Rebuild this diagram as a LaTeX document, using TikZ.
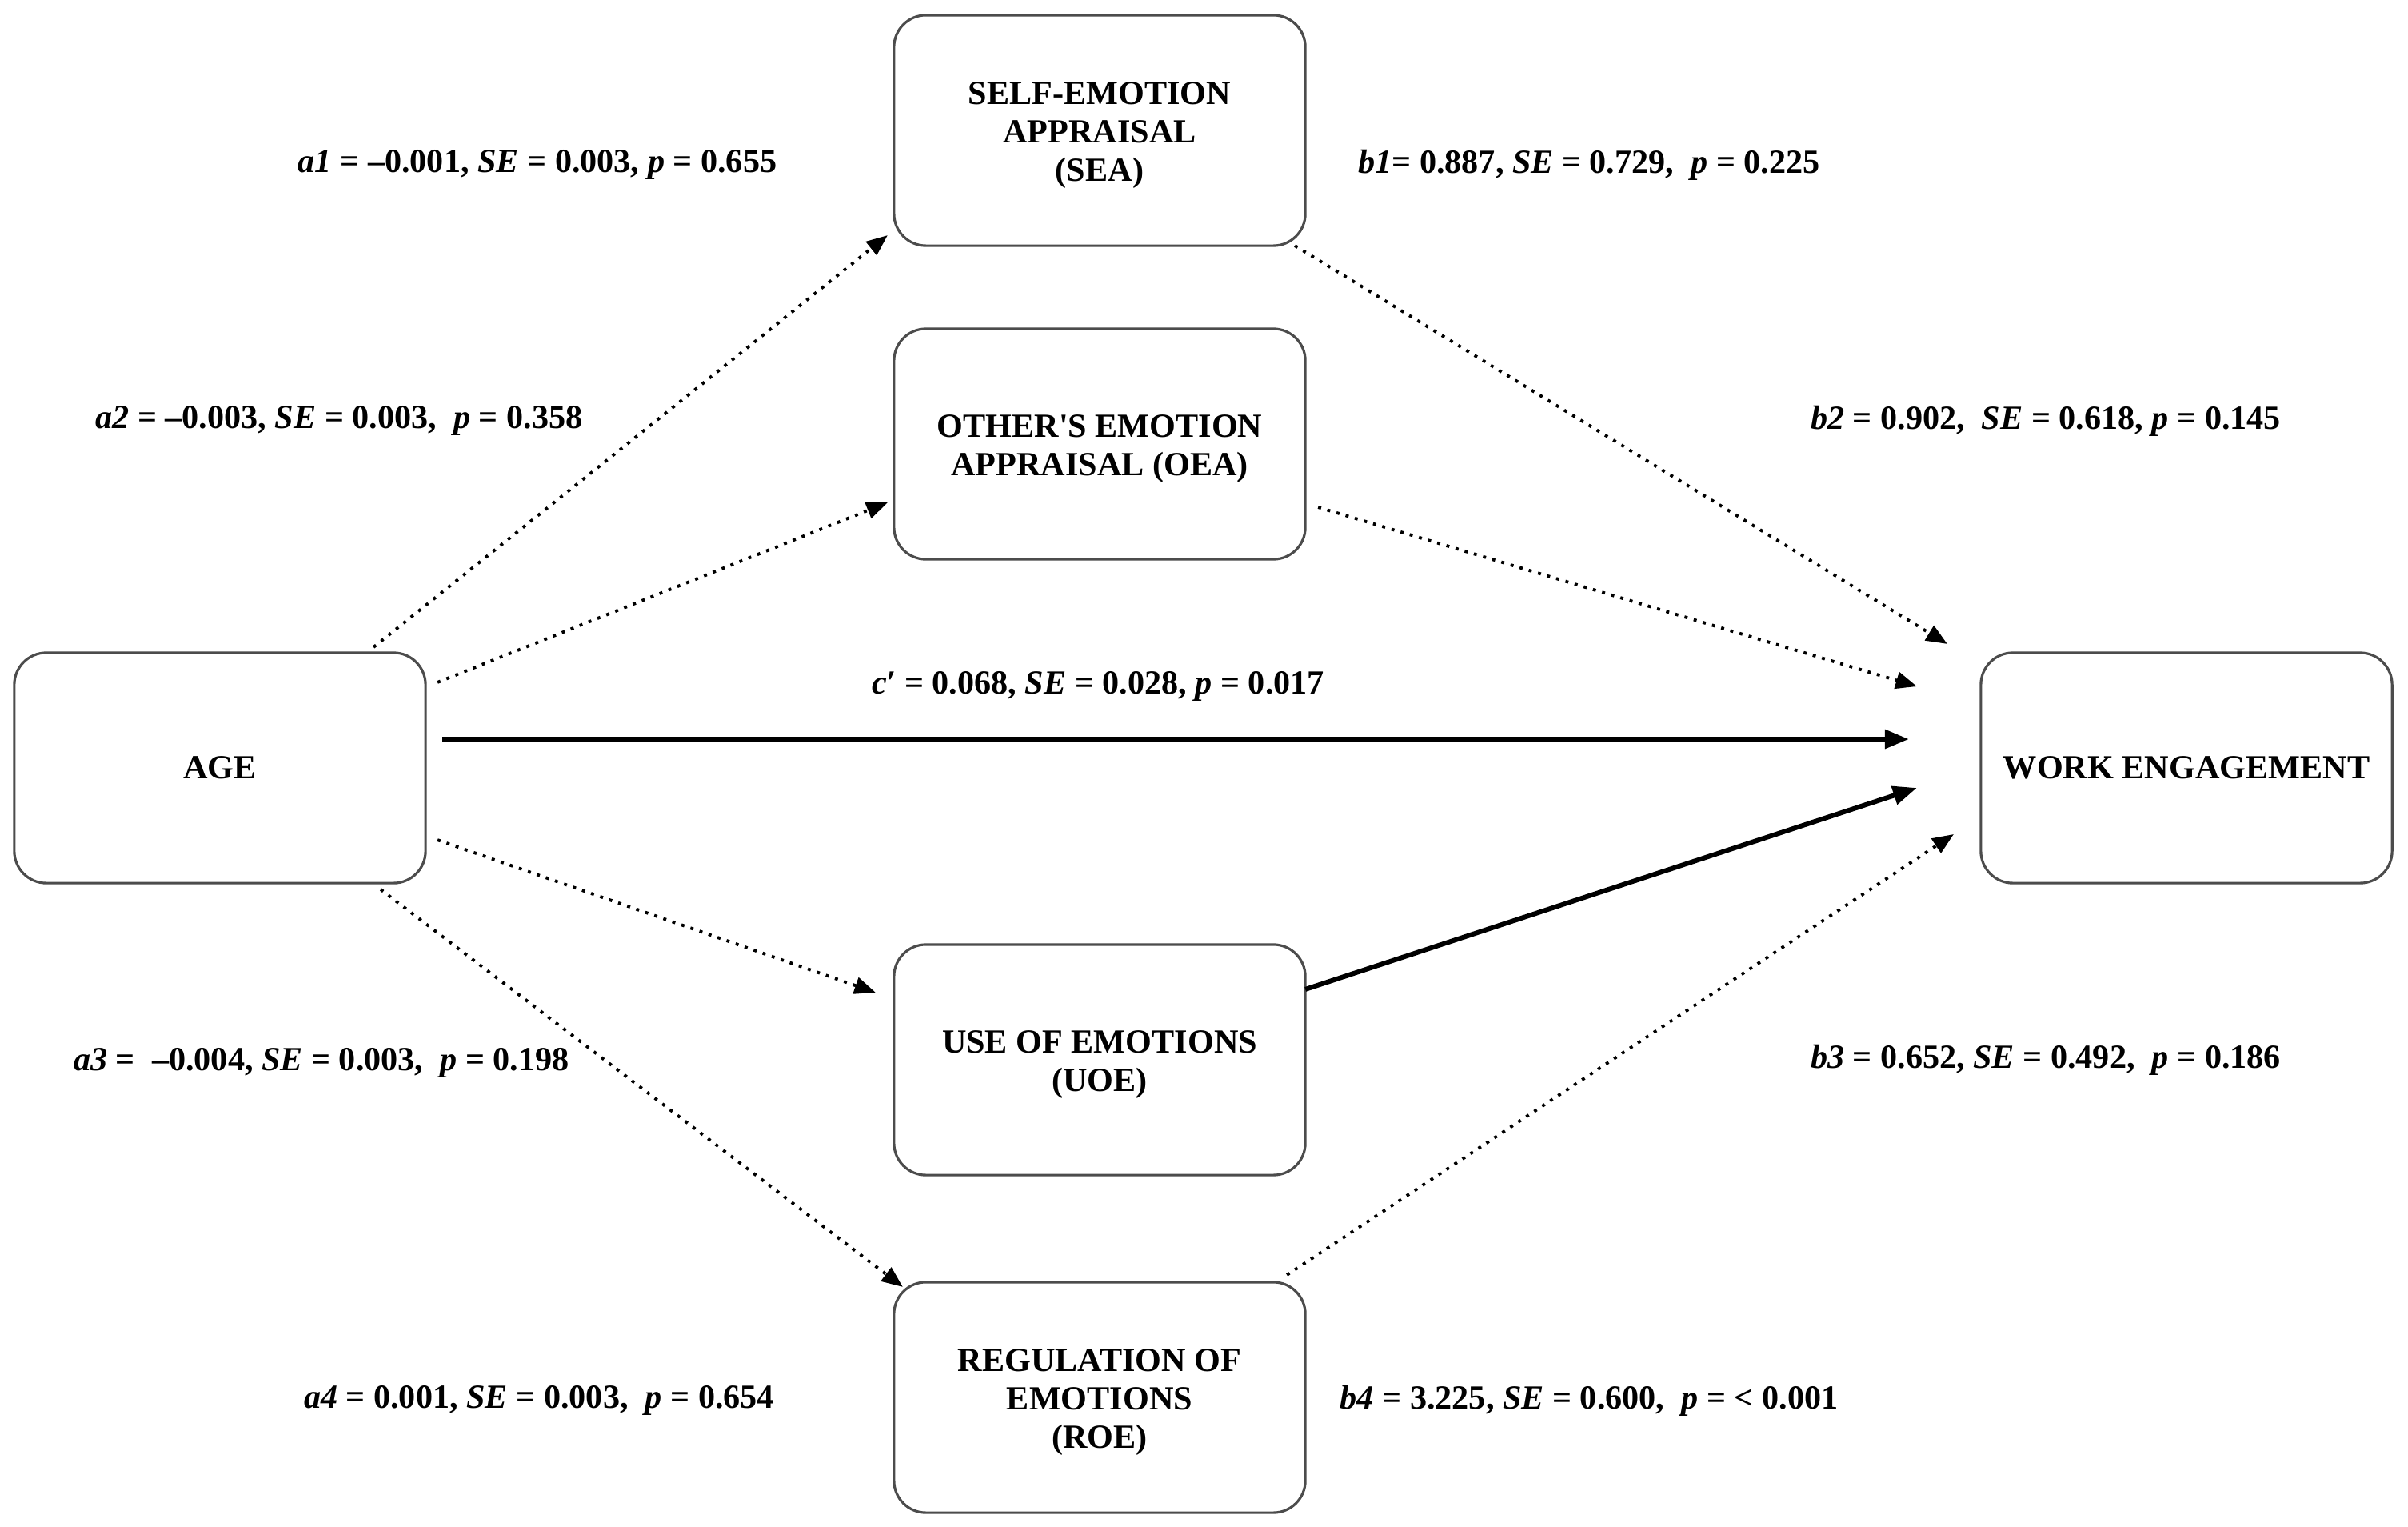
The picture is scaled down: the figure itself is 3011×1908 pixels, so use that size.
\documentclass[tikz,border=0pt]{standalone}
\usepackage{fontspec}
\setmainfont{Liberation Serif}[Ligatures=TeXOff]
\usetikzlibrary{arrows.meta,calc}
\newcommand{\topstrut}{\rule{0pt}{11.5pt}}
\begin{document}
\begin{tikzpicture}[x=0.01cm,y=-0.01cm,
  box/.style={draw=black!70,line width=0.9pt,rounded corners=0.4cm,minimum width=5.14cm,minimum height=2.88cm,
    inner sep=0pt,outer sep=0pt,align=center,font=\bfseries\fontsize{12}{13.7}\selectfont},
  lab/.style={font=\bfseries\fontsize{12}{14}\selectfont,inner sep=0pt},
  dotarrow/.style={line width=1.1pt,dash pattern=on 1.1pt off 2.3pt,-{Triangle[length=7.5pt,width=6pt]}},
  solidarrow/.style={line width=1.7pt,-{Triangle[length=8.5pt,width=6.5pt]}}]
\useasboundingbox[fill=white] (0,0) rectangle (3011,1908);
\node[box] (sea) at (1375,163) {\topstrut SELF-EMOTION\\APPRAISAL\\(SEA)};
\node[box] (oea) at (1375,555) {\topstrut OTHER'S EMOTION\\APPRAISAL (OEA)};
\node[box] (age) at (275,960) {AGE};
\node[box] (we) at (2734,960) {WORK ENGAGEMENT};
\node[box] (uoe) at (1375,1325) {\topstrut USE OF EMOTIONS\\(UOE)};
\node[box] (roe) at (1375,1747) {\topstrut REGULATION OF\\EMOTIONS\\(ROE)};
% labels
\node[lab] (la1) at (672,206) {\textit{a1} = –0.001, \textit{SE} = 0.003, \textit{p} = 0.655};
\node[lab] (la2) at (424,526) {\textit{a2} = –0.003, \textit{SE} = 0.003,\ \ \textit{p} = 0.358};
\node[lab] (lb1) at (1987,206) {\textit{b1}= 0.887, \textit{SE} = 0.729,\ \ \textit{p} = 0.225};
\node[lab] (lb2) at (2558,526) {\textit{b2} = 0.902,\ \ \textit{SE} = 0.618, \textit{p} = 0.145};
\node[lab] (lc) at (1373,858) {\textit{c′} = 0.068, \textit{SE} = 0.028, \textit{p} = 0.017};
\node[lab] (la3) at (402,1329) {\textit{a3} =\ \ –0.004, \textit{SE} = 0.003,\ \ \textit{p} = 0.198};
\node[lab] (lb3) at (2558,1325) {\textit{b3} = 0.652, \textit{SE} = 0.492,\ \ \textit{p} = 0.186};
\node[lab] (la4) at (674,1751) {\textit{a4} = 0.001, \textit{SE} = 0.003,\ \ \textit{p} = 0.654};
\node[lab] (lb4) at (1987,1751) {\textit{b4} = 3.225, \textit{SE} = 0.600,\ \ \textit{p} = < 0.001};
% connectors
\draw[dotarrow] ($(age.north east)+(-65,-7)$) -- ($(sea.south west)+(-8,-13)$);
\draw[dotarrow] ($(age.north east)+(15,37)$) -- ($(oea.south west)+(-8,-71)$);
\draw[dotarrow] ($(age.south east)+(15,-54)$) -- ($(uoe.north west)+(-23,60)$);
\draw[dotarrow] ($(age.south east)+(-56,8)$) -- ($(roe.north west)+(11,6)$);
\draw[dotarrow] ($(sea.south east)+(-13,0)$) -- ($(we.north west)+(-42,-11)$);
\draw[dotarrow] ($(oea.east)+(16,79)$) -- ($(we.west)+(-80,-102)$);
\draw[solidarrow] ($(age.east)+(21,-36)$) -- ($(we.west)+(-90,-36)$);
\draw[solidarrow] ($(uoe.north east)+(0,56)$) -- ($(we.west)+(-80,25)$);
\draw[dotarrow] ($(roe.north east)+(-23,-9)$) -- ($(we.west)+(-34,83)$);
\end{tikzpicture}
\end{document}
